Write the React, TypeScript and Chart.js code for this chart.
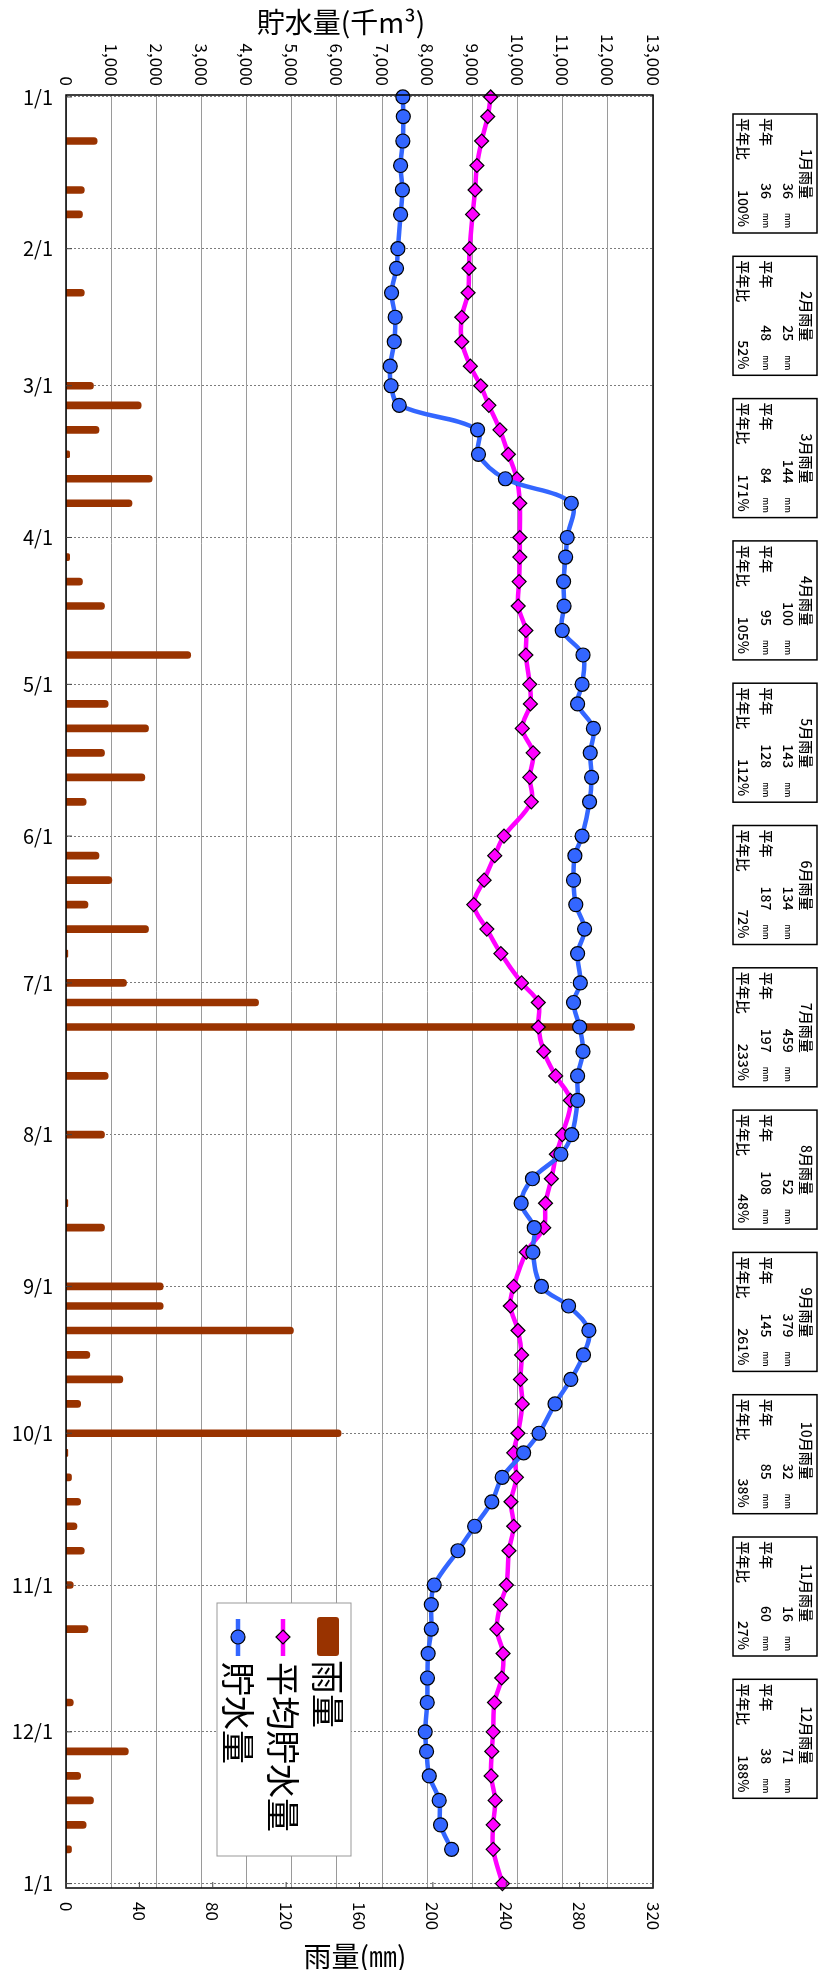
import React, { useEffect, useRef } from 'react';
import { Chart, registerables } from 'chart.js';

Chart.register(...registerables);

const FONT = '"Noto Sans CJK JP", "Noto Sans", sans-serif';

// ---- axis labels ----
const monthTickLabels = ['1/1', '2/1', '3/1', '4/1', '5/1', '6/1', '7/1', '8/1', '9/1', '10/1', '11/1', '12/1', '1/1'];
const storageAxisTitle = '貯水量(千m³)';
const rainAxisTitle = '雨量(㎜)';

// ---- 貯水量 (every 1,5,10,15,20,25 of each month) ----
const pointDates = [
  '1/1', '1/5', '1/10', '1/15', '1/20', '1/25',
  '2/1', '2/5', '2/10', '2/15', '2/20', '2/25',
  '3/1', '3/5', '3/10', '3/15', '3/20', '3/25',
  '4/1', '4/5', '4/10', '4/15', '4/20', '4/25',
  '5/1', '5/5', '5/10', '5/15', '5/20', '5/25',
  '6/1', '6/5', '6/10', '6/15', '6/20', '6/25',
  '7/1', '7/5', '7/10', '7/15', '7/20', '7/25',
  '8/1', '8/5', '8/10', '8/15', '8/20', '8/25',
  '9/1', '9/5', '9/10', '9/15', '9/20', '9/25',
  '10/1', '10/5', '10/10', '10/15', '10/20', '10/25',
  '11/1', '11/5', '11/10', '11/15', '11/20', '11/25',
  '12/1', '12/5', '12/10', '12/15', '12/20', '12/25',
];
const storage = [
  7460, 7470, 7460, 7410, 7450, 7410,
  7350, 7320, 7210, 7290, 7270, 7180,
  7200, 7380, 9115, 9135, 9730, 11190,
  11100, 11065, 11020, 11030, 10990, 11450,
  11430, 11330, 11680, 11610, 11640, 11595,
  11430, 11270, 11240, 11290, 11485, 11330,
  11390, 11240, 11375, 11450, 11330, 11330,
  11200, 10960, 10330, 10080, 10370, 10340,
  10530, 11130, 11580, 11460, 11180, 10830,
  10475, 10135, 9660, 9430, 9050, 8680,
  8155, 8090, 8090, 8020, 8005, 8000,
  7955, 7985, 8045, 8265, 8295, 8540,
];

// ---- 平均貯水量 ----
const avgDates = [...pointDates, '1/1'];
const avgStorage = [
  9405, 9340, 9205, 9100, 9060, 9005,
  8940, 8925, 8905, 8765, 8765, 8955,
  9185, 9365, 9610, 9797, 9985, 10050,
  10050, 10050, 10035, 10015, 10185, 10185,
  10270, 10285, 10105, 10345, 10270, 10305,
  9700, 9495, 9260, 9030, 9320, 9630,
  10090, 10460, 10460, 10580, 10845, 11170,
  10990, 10860, 10750, 10620, 10580, 10195,
  9915, 9840, 10010, 10090, 10065, 10105,
  10010, 9915, 9975, 9855, 9915, 9810,
  9755, 9620, 9540, 9680, 9650, 9490,
  9460, 9430, 9415, 9505, 9460, 9460,
  9665,
];

// ---- 雨量 (mm) ----
const rainDates = [
  '1/10', '1/20', '1/25', '2/10', '3/1', '3/5', '3/10', '3/15', '3/20', '3/25',
  '4/5', '4/10', '4/15', '4/25', '5/5', '5/10', '5/15', '5/20', '5/25',
  '6/5', '6/10', '6/15', '6/20', '6/25', '7/1', '7/5', '7/10', '7/20', '8/1',
  '8/15', '8/20', '9/1', '9/5', '9/10', '9/15', '9/20', '9/25', '10/1',
  '10/5', '10/10', '10/15', '10/20', '10/25', '11/1', '11/10', '11/25',
  '12/5', '12/10', '12/15', '12/20', '12/25',
];
const rainValues = [
  17, 10, 9, 10, 15, 41, 18, 2, 47, 36,
  2, 9, 21, 68, 23, 45, 21, 43, 11,
  18, 25, 12, 45, 1, 33, 105, 310, 23, 21,
  1, 21, 53, 53, 124, 13, 31, 8, 150,
  1, 3, 8, 6, 10, 4, 12, 4,
  34, 8, 15, 11, 3,
];

// ---- monthly summary boxes ----
const monthNumbers = [1, 2, 3, 4, 5, 6, 7, 8, 9, 10, 11, 12];
const monthRain = [36, 25, 144, 100, 143, 134, 459, 52, 379, 32, 16, 71];
const normalRain = [36, 48, 84, 95, 128, 187, 197, 108, 145, 85, 60, 38];
const ratioPct = [100, 52, 171, 105, 112, 72, 233, 48, 261, 38, 27, 188];

const legendLabels = ['雨量', '平均貯水量', '貯水量'];

const COLOR_RAIN = '#993300';
const COLOR_AVG = '#ff00ff';
const COLOR_STORAGE = '#3366ff';

const CUM_DAYS = [0, 31, 59, 90, 120, 151, 181, 212, 243, 273, 304, 334];
function dayOf(label: string, idx: number): number {
  const [m, d] = label.split('/').map(Number);
  const v = CUM_DAYS[m - 1] + d - 1;
  return idx > 0 && v === 0 ? 365 : v;
}

const overlayPlugin = {
  id: 'overlay',
  afterDraw(chart: any) {
    const { ctx, chartArea: a, scales } = chart;
    const xs = scales.xs;
    const xr = scales.xr;
    const ys = scales.y;
    ctx.save();

    // plot border
    ctx.strokeStyle = '#000';
    ctx.lineWidth = 1.5;
    ctx.strokeRect(a.left, a.top, a.right - a.left, a.bottom - a.top);

    // small month ticks on left axis
    ctx.lineWidth = 1;
    ctx.strokeStyle = '#444';
    monthTickLabels.forEach((l, i) => {
      const py = ys.getPixelForValue(dayOf(l, i));
      ctx.beginPath();
      ctx.moveTo(a.left, py);
      ctx.lineTo(a.left + 6, py);
      ctx.stroke();
    });
    // small rain ticks on bottom axis
    xr.ticks.forEach((t: any) => {
      const px = xr.getPixelForValue(t.value);
      ctx.beginPath();
      ctx.moveTo(px, a.bottom);
      ctx.lineTo(px, a.bottom - 6);
      ctx.stroke();
    });

    ctx.fillStyle = '#000';
    // date labels
    ctx.font = `20px ${FONT}`;
    ctx.textAlign = 'right';
    ctx.textBaseline = 'middle';
    monthTickLabels.forEach((l, i) => {
      ctx.fillText(l, a.left - 13, ys.getPixelForValue(dayOf(l, i)));
    });

    // storage tick labels (top, rotated clockwise)
    ctx.font = `17px ${FONT}`;
    xs.ticks.forEach((t: any) => {
      const px = xs.getPixelForValue(t.value);
      ctx.save();
      ctx.translate(px, a.top - 9);
      ctx.rotate(Math.PI / 2);
      ctx.textAlign = 'right';
      ctx.textBaseline = 'middle';
      ctx.fillText(Number(t.value).toLocaleString('en-US'), 0, 0);
      ctx.restore();
    });
    // rain tick labels (bottom, rotated clockwise)
    xr.ticks.forEach((t: any) => {
      const px = xr.getPixelForValue(t.value);
      ctx.save();
      ctx.translate(px, a.bottom + 14);
      ctx.rotate(Math.PI / 2);
      ctx.textAlign = 'left';
      ctx.textBaseline = 'middle';
      ctx.fillText(String(t.value), 0, 0);
      ctx.restore();
    });

    // axis titles
    ctx.font = `28px ${FONT}`;
    ctx.textAlign = 'center';
    ctx.textBaseline = 'middle';
    ctx.fillText(storageAxisTitle, 341, 22);
    ctx.fillText(rainAxisTitle, 355, 1956);

    // legend (rotated)
    ctx.fillStyle = '#fff';
    ctx.fillRect(217, 1603, 134, 253);
    ctx.strokeStyle = '#999';
    ctx.lineWidth = 1;
    ctx.strokeRect(217, 1603, 134, 253);
    const rtxt = (text: string, x: number, y: number, size: number, align: string, weight = '400') => {
      ctx.save();
      ctx.translate(x, y);
      ctx.rotate(Math.PI / 2);
      ctx.font = `${weight} ${size}px ${FONT}`;
      ctx.textAlign = align;
      ctx.textBaseline = 'middle';
      ctx.fillStyle = '#000';
      ctx.fillText(text, 0, 0);
      ctx.restore();
    };
    // rain swatch
    ctx.fillStyle = COLOR_RAIN;
    ctx.beginPath();
    ctx.roundRect(317, 1617, 22, 39, 3);
    ctx.fill();
    rtxt(legendLabels[0], 328, 1660, 34, 'left');
    // avg
    ctx.strokeStyle = COLOR_AVG;
    ctx.lineWidth = 4.5;
    ctx.beginPath();
    ctx.moveTo(283, 1619);
    ctx.lineTo(283, 1656);
    ctx.stroke();
    ctx.fillStyle = COLOR_AVG;
    ctx.strokeStyle = '#000';
    ctx.lineWidth = 1.2;
    ctx.beginPath();
    ctx.moveTo(283, 1630);
    ctx.lineTo(290, 1637);
    ctx.lineTo(283, 1644);
    ctx.lineTo(276, 1637);
    ctx.closePath();
    ctx.fill();
    ctx.stroke();
    rtxt(legendLabels[1], 283, 1662, 34, 'left');
    // storage
    ctx.strokeStyle = COLOR_STORAGE;
    ctx.lineWidth = 4.5;
    ctx.beginPath();
    ctx.moveTo(238, 1619);
    ctx.lineTo(238, 1656);
    ctx.stroke();
    ctx.fillStyle = COLOR_STORAGE;
    ctx.strokeStyle = '#000';
    ctx.lineWidth = 1.2;
    ctx.beginPath();
    ctx.arc(238, 1637, 7, 0, Math.PI * 2);
    ctx.fill();
    ctx.stroke();
    rtxt(legendLabels[2], 238, 1662, 34, 'left');

    // monthly boxes
    const boxRight = 817;
    monthNumbers.forEach((m, i) => {
      const top = 114 + i * 142.3;
      ctx.strokeStyle = '#000';
      ctx.lineWidth = 1.5;
      ctx.strokeRect(boxRight - 84, top, 84, 119);
      const bt = (text: string, v: number, u: number, align: string, size: number) =>
        rtxt(text, boxRight - v, top + u, size, align, '500');
      bt(`${m}月雨量`, 11, 85, 'right', 14);
      bt(String(monthRain[i]), 29, 85, 'right', 14);
      bt('mm', 29, 99, 'left', 8);
      bt('平年', 51, 4, 'left', 14);
      bt(String(normalRain[i]), 51, 85, 'right', 14);
      bt('mm', 51, 99, 'left', 8);
      bt('平年比', 74, 4, 'left', 14);
      bt(`${ratioPct[i]}%`, 74, 113, 'right', 14);
    });

    ctx.restore();
  },
};

export default function App() {
  const ref = useRef<HTMLCanvasElement | null>(null);

  useEffect(() => {
    document.body.style.margin = '0';
    const canvas = ref.current;
    if (!canvas) return;
    const monthTickDays = monthTickLabels.map((l, i) => dayOf(l, i));
    const chart = new Chart(canvas, {
      type: 'bar',
      data: {
        datasets: [
          {
            type: 'line',
            label: legendLabels[2],
            data: pointDates.map((d, i) => ({ x: storage[i], y: dayOf(d, i) })),
            xAxisID: 'xs',
            yAxisID: 'y',
            borderColor: COLOR_STORAGE,
            backgroundColor: COLOR_STORAGE,
            borderWidth: 4.5,
            pointStyle: 'circle',
            pointRadius: 7,
            pointBackgroundColor: COLOR_STORAGE,
            pointBorderColor: '#000',
            pointBorderWidth: 1.2,
            tension: 0.35,
            clip: false,
            order: 0,
          } as any,
          {
            type: 'line',
            label: legendLabels[1],
            data: avgDates.map((d, i) => ({ x: avgStorage[i], y: dayOf(d, i) })),
            xAxisID: 'xs',
            yAxisID: 'y',
            borderColor: COLOR_AVG,
            backgroundColor: COLOR_AVG,
            borderWidth: 4.5,
            pointStyle: 'rectRot',
            pointRadius: 7,
            pointBackgroundColor: COLOR_AVG,
            pointBorderColor: '#000',
            pointBorderWidth: 1.2,
            tension: 0.35,
            clip: false,
            order: 1,
          } as any,
          {
            type: 'bar',
            label: legendLabels[0],
            data: rainDates.map((d, i) => ({ x: rainValues[i], y: dayOf(d, i) })),
            xAxisID: 'xr',
            yAxisID: 'y',
            backgroundColor: COLOR_RAIN,
            barThickness: 7,
            borderRadius: 3.5,
            borderSkipped: 'start',
            order: 2,
          } as any,
        ],
      },
      options: {
        animation: false,
        responsive: false,
        maintainAspectRatio: false,
        indexAxis: 'y',
        layout: { padding: { left: 66, top: 95, right: 166, bottom: 82 } },
        plugins: {
          legend: { display: false },
          tooltip: { enabled: false },
          title: { display: false },
        },
        scales: {
          y: {
            type: 'linear',
            position: 'left',
            reverse: true,
            offset: false,
            min: -0.4,
            max: 365.9,
            afterBuildTicks: (s: any) => {
              s.ticks = monthTickDays.map((v) => ({ value: v }));
            },
            ticks: { display: false },
            grid: { color: 'rgba(80,80,80,0.75)', lineWidth: 1, drawTicks: false, offset: false },
            border: { display: false, dash: [2, 2] },
          },
          xs: {
            type: 'linear',
            position: 'top',
            min: 0,
            max: 13000,
            offset: false,
            ticks: { display: false, stepSize: 1000 },
            grid: { color: '#9a9a9a', lineWidth: 1, drawTicks: false },
            border: { display: false },
          },
          xr: {
            type: 'linear',
            position: 'bottom',
            min: 0,
            max: 320,
            offset: false,
            ticks: { display: false, stepSize: 40 },
            grid: { display: false, drawTicks: false },
            border: { display: false },
          },
        },
      } as any,
      plugins: [overlayPlugin],
    });
    return () => chart.destroy();
  }, []);

  return (
    <div style={{ width: 819, height: 1970, background: '#fff' }}>
      <canvas ref={ref} width={819} height={1970} style={{ display: 'block', width: 819, height: 1970 }} />
    </div>
  );
}
